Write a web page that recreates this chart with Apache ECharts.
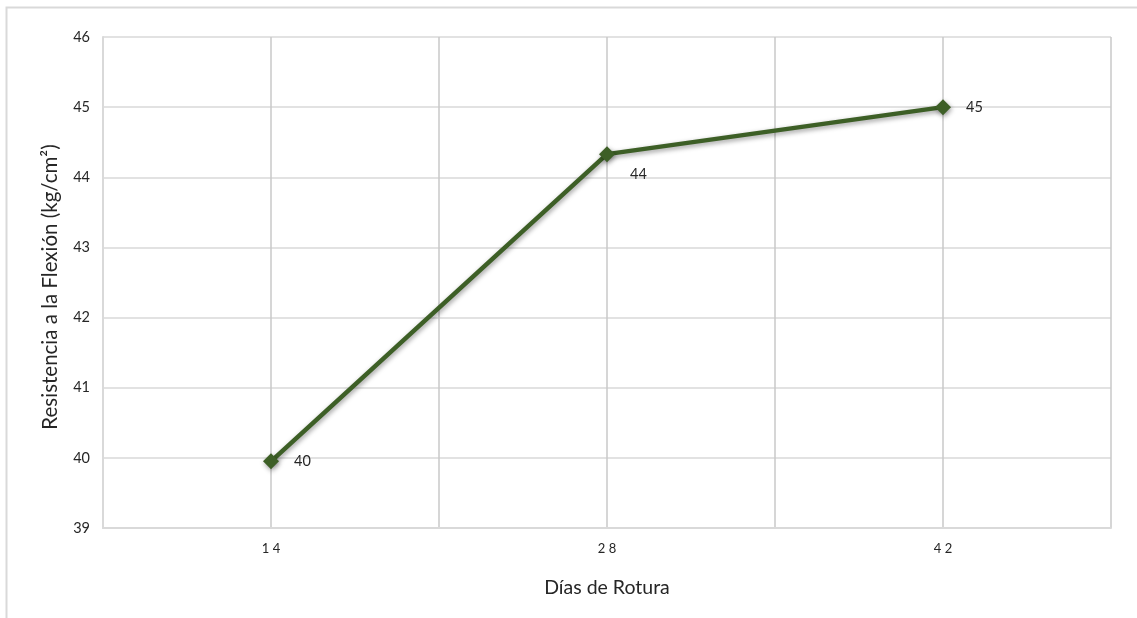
<!DOCTYPE html>
<html>
<head>
<meta charset="utf-8">
<script src="https://cdn.jsdelivr.net/npm/echarts@6/dist/echarts.min.js"></script>
<style>html,body{margin:0;padding:0;background:#fff}#c{width:1137px;height:618px}</style>
</head>
<body>
<div id="c"></div>
<script>
var days = [14, 28, 42];
var resistance = [39.95, 44.33, 45.0];
var labels = ['40', '44', '45'];
var yTicks = [39, 40, 41, 42, 43, 44, 45, 46];
var xTitle = 'Días de Rotura';
var yTitle = 'Resistencia a la Flexión (kg/cm²)';

var FONT = 'Lato, "Open Sans", sans-serif';
var chart = echarts.init(document.getElementById('c'), null, {renderer: 'canvas'});
var seriesData = days.map(function (d, i) {
  var item = {value: [d, resistance[i]], label: {formatter: labels[i]}};
  if (i === 1) item.label.offset = [0, 20];
  return item;
});
chart.setOption({
  backgroundColor: '#fff',
  animation: false,
  graphic: [{
    type: 'rect', shape: {x: 6.5, y: 7.5, width: 1200, height: 700},
    style: {fill: 'none', stroke: '#d9d9d9', lineWidth: 2}, silent: true, z: -1
  }],
  grid: {left: 103, right: 26, top: 37, bottom: 90, containLabel: false},
  xAxis: {
    type: 'value', min: 7, max: 49, interval: 7,
    name: xTitle, nameLocation: 'middle', nameGap: 50,
    nameTextStyle: {fontFamily: FONT, fontSize: 19.5, color: '#262626'},
    axisLine: {show: true, lineStyle: {color: '#d9d9d9', width: 2}},
    axisTick: {show: false},
    axisLabel: {
      fontFamily: FONT, fontSize: 13, color: '#262626', margin: 14,
      showMinLabel: false, showMaxLabel: false,
      formatter: function (v) { return days.indexOf(v) >= 0 ? String(v).split('').join(' ') : ''; }
    },
    splitLine: {show: true, lineStyle: {color: '#c8c8c8', width: 1.5}}
  },
  yAxis: {
    type: 'value', min: yTicks[0], max: yTicks[yTicks.length - 1], interval: 1,
    name: yTitle, nameLocation: 'middle', nameGap: 42, nameRotate: 90,
    nameTextStyle: {fontFamily: FONT, fontSize: 20.5, color: '#262626', padding: [0, 9, 0, 0]},
    axisLine: {show: true, lineStyle: {color: '#d9d9d9', width: 2}},
    axisTick: {show: false},
    axisLabel: {fontFamily: FONT, fontSize: 14.5, color: '#262626', margin: 13},
    splitLine: {show: true, lineStyle: {color: '#d9d9d9', width: 1.5}}
  },
  series: [{
    type: 'line',
    data: seriesData,
    symbol: 'diamond', symbolSize: 16,
    lineStyle: {color: '#3d5f26', width: 4.5, shadowColor: 'rgba(0,0,0,0.4)', shadowBlur: 5, shadowOffsetY: 2, shadowOffsetX: 1},
    itemStyle: {color: '#3d5f26', shadowColor: 'rgba(0,0,0,0.4)', shadowBlur: 5, shadowOffsetY: 2, shadowOffsetX: 1},
    label: {show: true, position: 'right', distance: 15, fontFamily: FONT, fontSize: 14.5, color: '#262626'}
  }]
});
</script>
</body>
</html>
